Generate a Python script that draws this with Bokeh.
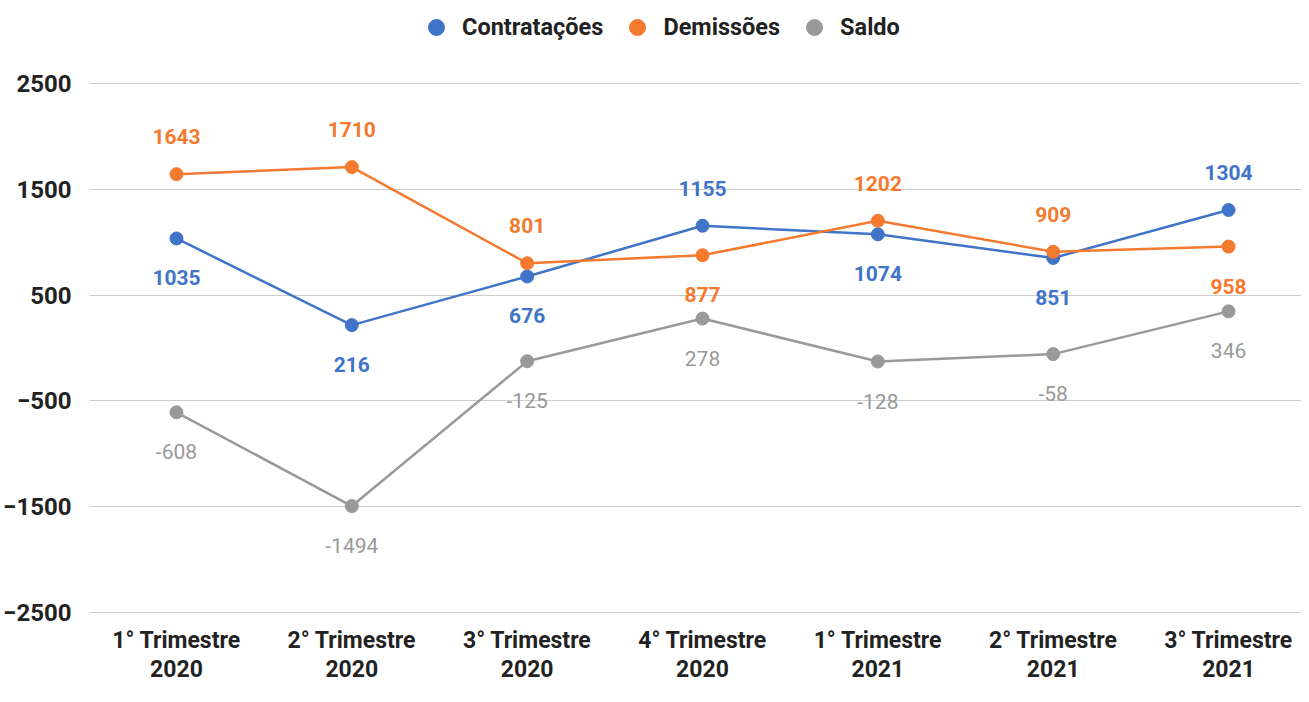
from bokeh.plotting import figure
from bokeh.models import (ColumnDataSource, FixedTicker, Legend, LegendItem, LabelSet, Range1d)
from bokeh.layouts import column
from bokeh.core.properties import value
from bokeh.embed import file_html
from bokeh.resources import INLINE

quarters = ["1° Trimestre\n2020", "2° Trimestre\n2020", "3° Trimestre\n2020", "4° Trimestre\n2020",
            "1° Trimestre\n2021", "2° Trimestre\n2021", "3° Trimestre\n2021"]
contratacoes = [1035, 216, 676, 1155, 1074, 851, 1304]
demissoes = [1643, 1710, 801, 877, 1202, 909, 958]
saldo = [-608, -1494, -125, 278, -128, -58, 346]
pos_contr = ["below", "below", "below", "above", "below", "below", "above"]
pos_dem = ["above", "above", "above", "below", "above", "above", "below"]
pos_saldo = ["below"] * 7
y_ticks = [-2500, -1500, -500, 500, 1500, 2500]

FONT = "Roboto"
BLUE = "#3f74c8"
ORANGE = "#f47a2f"
GRAY = "#999999"

xs = list(range(len(quarters)))

LEG_H = 56
p = figure(width=1301, height=686 - LEG_H, output_backend="svg", toolbar_location=None,
           x_range=Range1d(-0.496, 6.416), y_range=Range1d(-2538, 2547),
           min_border_left=88, min_border_right=0, min_border_top=78 - LEG_H, min_border_bottom=70)
p.outline_line_color = None
p.background_fill_color = "white"

p.xgrid.grid_line_color = None
p.ygrid.grid_line_color = "#cccccc"
p.ygrid.grid_line_width = 1
p.yaxis.ticker = FixedTicker(ticks=y_ticks)
p.xaxis.ticker = FixedTicker(ticks=xs)
p.xaxis.major_label_overrides = {i: q for i, q in enumerate(quarters)}

for ax in (p.xaxis[0], p.yaxis[0]):
    ax.axis_line_color = None
    ax.major_tick_line_color = None
    ax.minor_tick_line_color = None
    ax.major_label_text_font = FONT
    ax.major_label_text_font_style = "bold"
    ax.major_label_text_color = "#222222"
p.yaxis.major_label_text_font_size = "24px"
p.yaxis.major_label_standoff = 12
p.xaxis.major_label_text_font_size = "23px"
p.xaxis.major_label_standoff = 4
p.xaxis.major_label_text_line_height = 1.1

# legend figure
lf = figure(width=1301, height=LEG_H, output_backend="svg", toolbar_location=None,
            x_range=Range1d(0, 1), y_range=Range1d(0, 1),
            x_axis_location=None, y_axis_location=None,
            min_border_left=0, min_border_right=0, min_border_top=0, min_border_bottom=0)
lf.grid.visible = False
lf.outline_line_color = None

series = [("Contratações", contratacoes, BLUE, pos_contr, "bold"),
          ("Demissões", demissoes, ORANGE, pos_dem, "bold"),
          ("Saldo", saldo, GRAY, pos_saldo, "normal")]

items = []
for name, vals, color, pos, weight in series:
    src = ColumnDataSource(dict(x=xs, y=vals))
    p.line("x", "y", source=src, line_color=color, line_width=2.5)
    p.scatter("x", "y", source=src, size=13, fill_color=color, line_color=color)
    lr = lf.scatter(x=[-5], y=[-5], size=16, fill_color=color, line_color=color)
    items.append(LegendItem(label=name, renderers=[lr]))
    for side in ("above", "below"):
        idx = [i for i, pp in enumerate(pos) if pp == side]
        if not idx:
            continue
        s2 = ColumnDataSource(dict(x=[xs[i] for i in idx], y=[vals[i] for i in idx],
                                   lbl=[str(vals[i]) for i in idx]))
        ls = LabelSet(x="x", y="y", text="lbl", source=s2,
                      y_offset=(30 if side == "above" else -32),
                      text_baseline=("bottom" if side == "above" else "top"),
                      text_align="center", text_font=value(FONT), text_font_size="21px",
                      text_font_style=weight, text_color=color)
        p.add_layout(ls)

legend = Legend(items=items, orientation="horizontal", location=(327, LEG_H - 27 - 20),
                label_text_font=FONT, label_text_font_size="23.5px",
                label_text_font_style="bold", label_text_color="#222222",
                glyph_width=40, glyph_height=40, spacing=14, label_standoff=6,
                border_line_color=None, background_fill_alpha=0, padding=0, margin=0)
lf.add_layout(legend)

layout = column(lf, p, spacing=0)
open("out.html", "w").write(file_html(layout, INLINE))
